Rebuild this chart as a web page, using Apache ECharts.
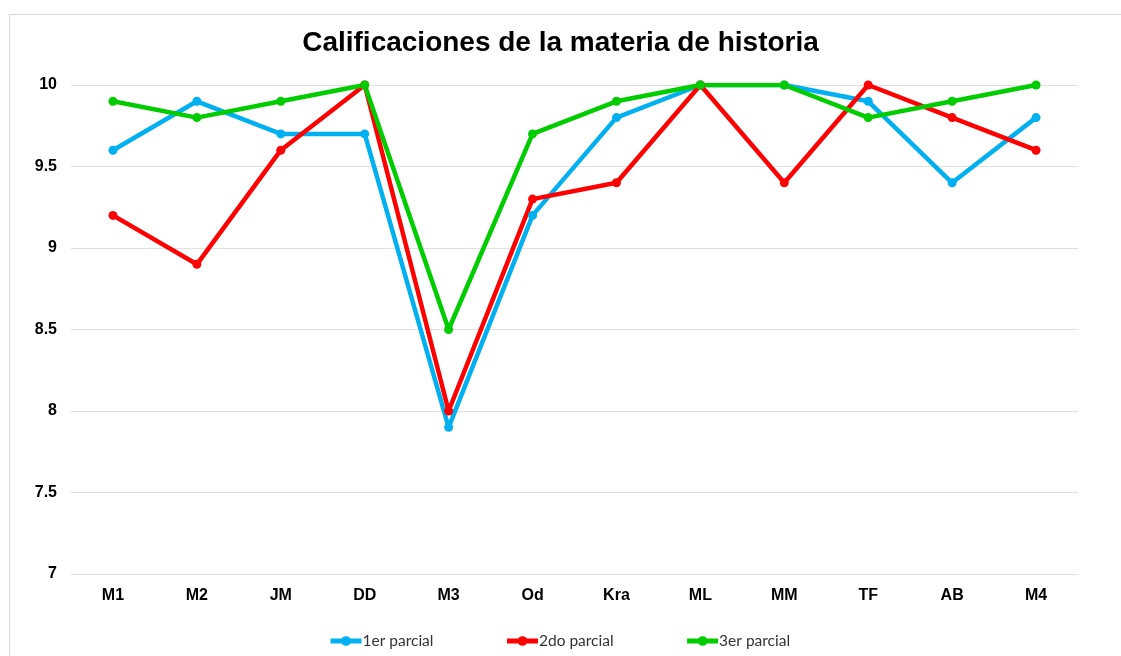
<!DOCTYPE html>
<html>
<head>
<meta charset="utf-8">
<script src="https://cdn.jsdelivr.net/npm/echarts@6/dist/echarts.min.js"></script>
<style>
html, body { margin: 0; padding: 0; background: #fff; }
#main { width: 1121px; height: 656px; }
</style>
</head>
<body>
<div id="main"></div>
<script>
// datos de la grafica
var categorias = ['M1', 'M2', 'JM', 'DD', 'M3', 'Od', 'Kra', 'ML', 'MM', 'TF', 'AB', 'M4'];
var parcial1 = [9.6, 9.9, 9.7, 9.7, 7.9, 9.2, 9.8, 10, 10, 9.9, 9.4, 9.8];
var parcial2 = [9.2, 8.9, 9.6, 10, 8.0, 9.3, 9.4, 10, 9.4, 10, 9.8, 9.6];
var parcial3 = [9.9, 9.8, 9.9, 10, 8.5, 9.7, 9.9, 10, 10, 9.8, 9.9, 10];
var nombres = ['1er parcial', '2do parcial', '3er parcial'];
var colores = ['#00b0f0', '#ff0000', '#00cc00'];

var myChart = echarts.init(document.getElementById('main'));

function serie(nombre, datos) {
    return {
        name: nombre,
        type: 'line',
        data: datos,
        symbol: 'circle',
        symbolSize: 9,
        lineStyle: { width: 4.5 },
        z: 2
    };
}

var option = {
    animation: false,
    color: colores,
    title: {
        text: 'Calificaciones de la materia de historia',
        left: 'center',
        top: 24,
        textStyle: {
            fontFamily: 'Liberation Sans',
            fontWeight: 'bold',
            fontSize: 28,
            color: '#000'
        }
    },
    graphic: [{
        type: 'rect',
        shape: { x: 9.5, y: 14.5, width: 1200, height: 700 },
        style: { fill: 'none', stroke: '#d9d9d9', lineWidth: 1 },
        silent: true
    }],
    legend: {
        data: nombres,
        left: 323,
        top: 628,
        itemWidth: 31,
        itemHeight: 12,
        itemGap: 71,
        lineStyle: { width: 5 },
        textStyle: { fontFamily: 'Lato', fontSize: 15.5, color: '#333', padding: [0, 0, 0, -4] }
    },
    grid: {
        left: 71,
        right: 43,
        top: 85,
        bottom: 82
    },
    xAxis: {
        type: 'category',
        data: categorias,
        boundaryGap: true,
        axisLine: { show: false },
        axisTick: { show: false },
        axisLabel: {
            margin: 14,
            fontFamily: 'Liberation Sans',
            fontWeight: 'bold',
            fontSize: 16,
            color: '#000'
        }
    },
    yAxis: {
        type: 'value',
        min: 7,
        max: 10,
        interval: 0.5,
        axisLine: { show: false },
        axisTick: { show: false },
        splitLine: { lineStyle: { color: '#e0e0e0', width: 1 } },
        axisLabel: {
            margin: 14,
            fontFamily: 'Liberation Sans',
            fontWeight: 'bold',
            fontSize: 16,
            color: '#000'
        }
    },
    series: [
        serie(nombres[0], parcial1),
        serie(nombres[1], parcial2),
        serie(nombres[2], parcial3)
    ]
};
myChart.setOption(option);
</script>
</body>
</html>
